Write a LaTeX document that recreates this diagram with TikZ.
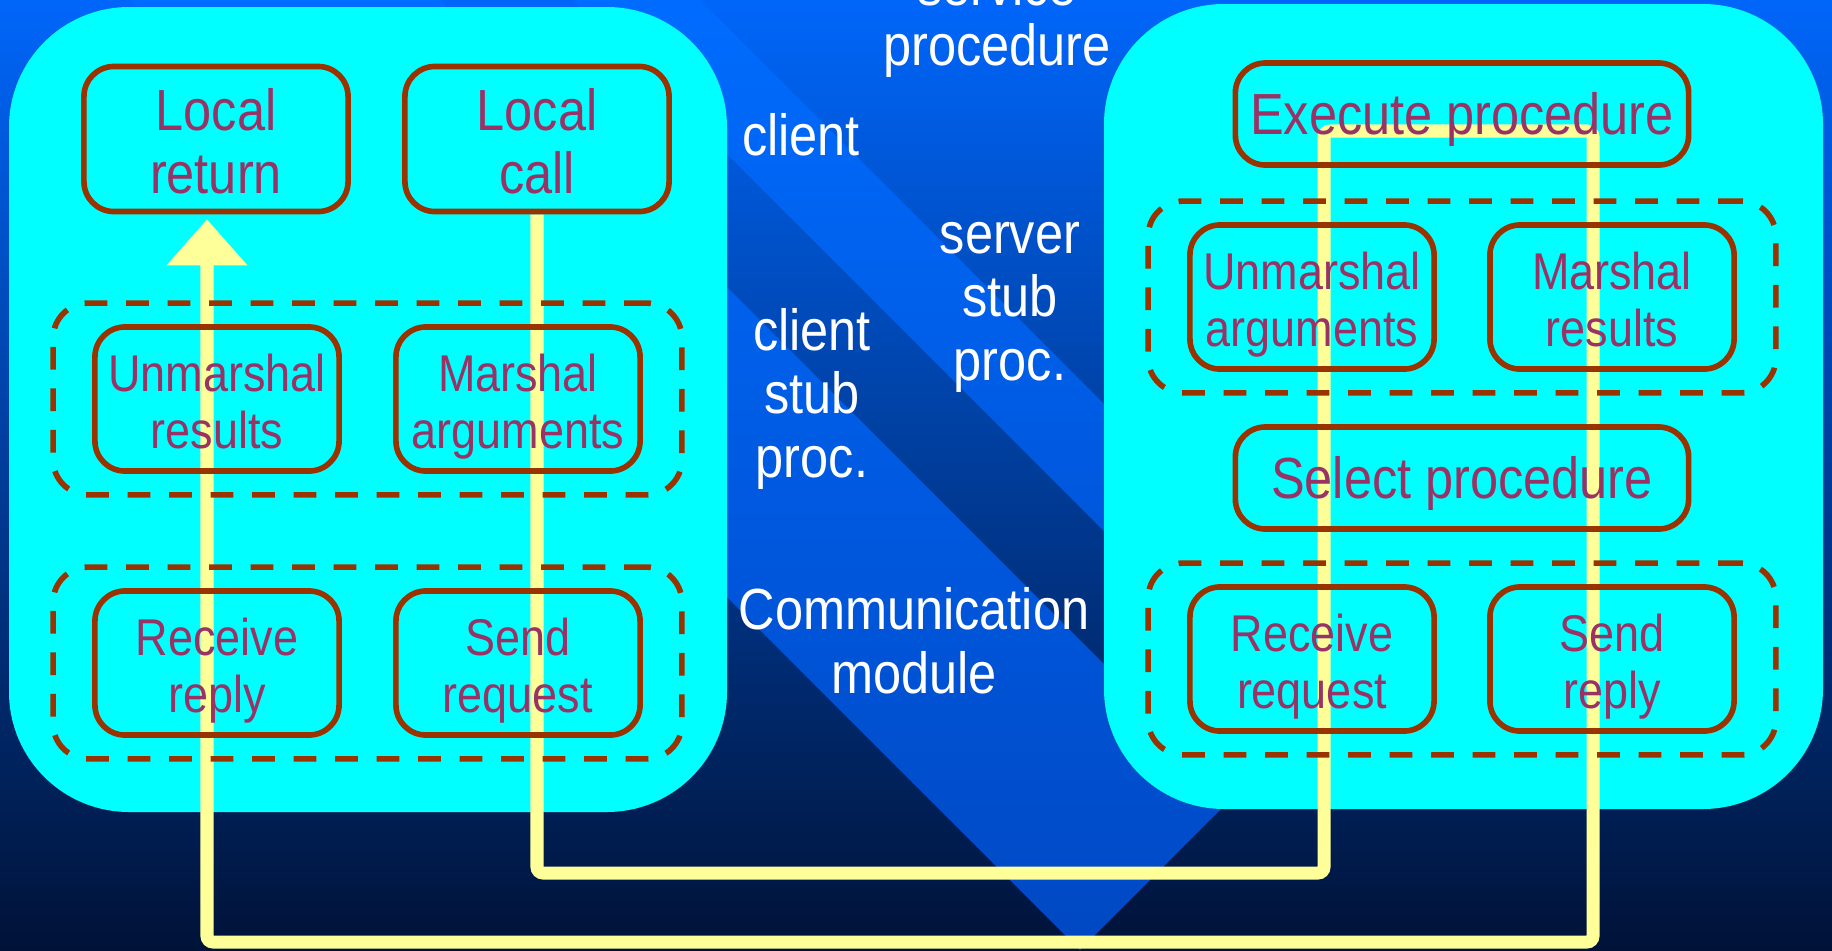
\documentclass[tikz,border=0pt]{standalone}
\usepackage{fontspec}
\usetikzlibrary{arrows.meta,fit}
\newfontfamily\slidefont[FakeStretch=0.87]{Liberation Sans}
\definecolor{bgtop}{RGB}{0,102,250}
\definecolor{bgmid}{RGB}{0,62,170}
\definecolor{bgbot}{RGB}{0,18,55}
\definecolor{bandtop}{RGB}{0,108,255}
\definecolor{bandbot}{RGB}{0,72,195}
\definecolor{panel}{RGB}{0,255,255}
\definecolor{rust}{RGB}{153,51,0}
\definecolor{plum}{RGB}{153,51,102}
\definecolor{pale}{RGB}{255,255,153}
\pgfdeclarelayer{bg}
\pgfdeclarelayer{flowlayer}
\pgfsetlayers{bg,flowlayer,main}

\begin{document}
\begin{tikzpicture}[x=0.01cm, y=-0.01cm,
  procbox/.style={draw=rust, line width=1.6pt, rounded corners=0.3cm, align=center,
    text=plum, inner sep=0pt, minimum width=2.44cm, minimum height=1.44cm,
    text height=31.2pt, text depth=3pt,
    font=\slidefont\fontsize{14.7}{16.2}\selectfont},
  bigproc/.style={procbox, text height=34.2pt,
    font=\slidefont\fontsize{16.5}{17.9}\selectfont},
  lineproc/.style={bigproc, minimum width=4.53cm, minimum height=1.02cm, text height=14.8pt},
  stubgroup/.style={draw=rust, line width=1.6pt, dash pattern=on 6.5pt off 5.3pt,
    rounded corners=0.35cm, inner xsep=0.39cm, inner ysep=0.21cm},
  whitetext/.style={text=white, align=center, anchor=base,
    font=\slidefont\fontsize{16.5}{18}\selectfont},
  flow/.style={draw=pale, line width=3.7pt, rounded corners=0.06cm}]
  \useasboundingbox (0,0) rectangle (1832,951);
  \clip (0,0) rectangle (1832,951);

  % 背景とパネル
  \begin{pgfonlayer}{bg}
    \shade[top color=bgtop, middle color=bgmid, bottom color=bgbot] (0,0) rectangle (1832,951);
    \shade[top color=bandtop, bottom color=bandbot] (130,0) -- (1080,950) -- (1235,795) -- (440,0) -- cycle;
    \shade[top color=bandtop, bottom color=bandbot!70!bandtop] (573,0) -- (1200,627) -- (1260,560) -- (700,0) -- cycle;
    \fill[panel, rounded corners=1.2cm] (9,7) rectangle (727,812);
    \fill[panel, rounded corners=1.2cm] (1104,4) rectangle (1823,809);
  \end{pgfonlayer}

  % クライアント側
  \node[bigproc, minimum width=2.64cm, minimum height=1.45cm] (lret) at (216,139) {Local\\return};
  \node[bigproc, minimum width=2.64cm, minimum height=1.45cm] (lcall) at (537,139) {Local\\call};
  \node[procbox] (unres) at (217,399) {Unmarshal\\results};
  \node[procbox] (marg) at (518,399) {Marshal\\arguments};
  \node[procbox] (recrep) at (217,663) {Receive\\reply};
  \node[procbox] (sendreq) at (518,663) {Send\\request};
  \node[stubgroup, fit=(unres)(marg)] (cstub) {};
  \node[stubgroup, fit=(recrep)(sendreq)] (ccomm) {};

  % サーバ側
  \node[lineproc] (exec) at (1462,114) {Execute procedure};
  \node[procbox] (unarg) at (1312,297) {Unmarshal\\arguments};
  \node[procbox] (mres) at (1612,297) {Marshal\\results};
  \node[lineproc] (sel) at (1462,478) {Select procedure};
  \node[procbox] (recreq) at (1312,659) {Receive\\request};
  \node[procbox] (sendrep) at (1612,659) {Send\\reply};
  \node[stubgroup, fit=(unarg)(mres)] (sstub) {};
  \node[stubgroup, fit=(recreq)(sendrep)] (scomm) {};

  % ラベル
  \node[whitetext] (svc) at (997,65) {service\\[-1.1pt]procedure};
  \node[whitetext] (cli) at (801,155) {client};
  \node[whitetext] (sstubtxt) at (1010,380) {server\\stub\\proc.};
  \node[whitetext] (cstubtxt) at (812,477) {client\\stub\\proc.};
  \node[whitetext] (commtxt) at (914,693) {Communication\\module};

  % 呼び出しの流れ
  \begin{pgfonlayer}{flowlayer}
    \draw[flow, -{Triangle[width=0.78cm, length=0.46cm]}, shorten >=0.05cm]
      (lcall.south) -- (lcall.south |- 0,873) -- (1324,873) -- (1324,131)
      -- (1593,131) -- (1593,942) -- (207,942) -- (207,0 |- lret.south);
  \end{pgfonlayer}
\end{tikzpicture}
\end{document}
